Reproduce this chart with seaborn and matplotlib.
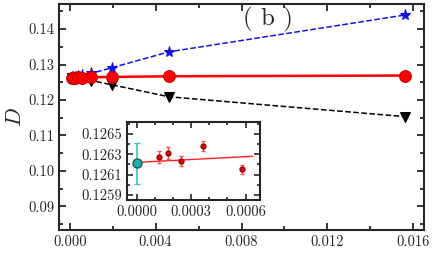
import numpy as np
import pandas as pd
import seaborn as sns
import matplotlib.pyplot as plt
from matplotlib.ticker import MultipleLocator, FormatStrFormatter

# h = 1/N^3 for N = 4 .. 20
h = [0.015625, 0.00463, 0.001953, 0.001, 0.000579, 0.000364, 0.000244, 0.000171, 0.000125]
d_circle = [0.1269, 0.1267, 0.1265, 0.1264, 0.12615, 0.12638, 0.12623, 0.12631, 0.12627]
d_star = [0.1440, 0.1336, 0.1291, 0.1275, 0.1270, 0.1268, 0.1266, 0.1266, 0.1265]
d_tri = [0.1153, 0.1209, 0.1243, 0.1255, 0.1259, 0.1261, 0.1262, 0.1262, 0.1263]

# inset data
inset_h = [0.000579, 0.000364, 0.000244, 0.000171, 0.000125]
inset_d = [0.12615, 0.12638, 0.12623, 0.12631, 0.12627]
inset_err = [0.00004, 0.00005, 0.00005, 0.00006, 0.00006]
extrap_h = [0.0]
extrap_d = [0.12621]
extrap_err = [0.0002]
fit_h = [0.0, 0.00064]
fit_d = [0.12622, 0.12628]

sns.set_style("ticks")
plt.rcParams['font.family'] = ['cmr10', 'DejaVu Serif']
plt.rcParams['mathtext.fontset'] = 'cm'
plt.rcParams['axes.formatter.use_mathtext'] = True

fig = plt.figure(figsize=(4.36, 2.54), dpi=100)
ax = fig.add_axes([0.1353, 0.0945, 0.8372, 0.8898])

df = pd.DataFrame({"h": h, "circ": d_circle, "star": d_star, "tri": d_tri})

sns.lineplot(data=df, x="h", y="star", ax=ax, color="#1010ee", linestyle="--",
             linewidth=1.1, marker="*", markersize=8, markeredgecolor="#1010ee")
sns.lineplot(data=df, x="h", y="tri", ax=ax, color="black", linestyle="--",
             linewidth=1.1, marker="v", markersize=7, markeredgecolor="black")
sns.lineplot(data=df, x="h", y="circ", ax=ax, color="#ff0000", linewidth=1.8,
             marker="o", markersize=8.5, markeredgecolor="#cc0000")

ax.set_xlim(-0.0005, 0.0165)
ax.set_ylim(0.0833, 0.1471)
ax.xaxis.set_major_locator(MultipleLocator(0.004))
ax.xaxis.set_minor_locator(MultipleLocator(0.002))
ax.yaxis.set_major_locator(MultipleLocator(0.01))
ax.yaxis.set_minor_locator(MultipleLocator(0.005))
ax.xaxis.set_major_formatter(FormatStrFormatter("%.3f"))
ax.yaxis.set_major_formatter(FormatStrFormatter("%.2f"))
ax.tick_params(which="both", direction="in", top=True, right=True, labelsize=10.5, width=1.3)
ax.tick_params(which="major", length=5)
ax.tick_params(which="minor", length=3)
for s in ax.spines.values():
    s.set_linewidth(1.5)
ax.set_xlabel("")
ax.set_ylabel(r"$D$", fontsize=16, labelpad=2)
ax.text(0.572, 0.905, "( b )", transform=ax.transAxes, ha="center", va="baseline",
        fontsize=18, fontweight="bold")

# inset
axi = fig.add_axes([0.292, 0.2126, 0.3044, 0.3083])
axi.plot(fit_h, fit_d, color="#ff2020", linewidth=1.0)
axi.errorbar(inset_h, inset_d, yerr=inset_err, fmt="o", color="#cc0000", ms=3.5,
             ecolor="#ff5050", elinewidth=1, capsize=1.5, mfc="#ee0000", mec="#990000")
axi.errorbar(extrap_h, extrap_d, yerr=extrap_err, fmt="o", ms=6.5, color="#20b2aa",
             ecolor="#30c8c8", elinewidth=1.2, capsize=2, mfc="#20b0a8", mec="#106060")
axi.set_xlim(-0.0000516, 0.00068)
axi.set_ylim(0.12585, 0.12662)
axi.xaxis.set_major_locator(MultipleLocator(0.0003))
axi.xaxis.set_minor_locator(MultipleLocator(0.0001))
axi.yaxis.set_major_locator(plt.FixedLocator([0.1259, 0.1261, 0.1263, 0.1265]))
axi.yaxis.set_minor_locator(MultipleLocator(0.0001))
axi.xaxis.set_major_formatter(FormatStrFormatter("%.4f"))
axi.yaxis.set_major_formatter(FormatStrFormatter("%.4f"))
axi.tick_params(which="both", direction="in", top=True, right=True, labelsize=10.5, width=1.2)
axi.tick_params(which="major", length=4)
axi.tick_params(which="minor", length=2.5)
for s in axi.spines.values():
    s.set_linewidth(1.5)

fig.savefig("out.png", dpi=100)
